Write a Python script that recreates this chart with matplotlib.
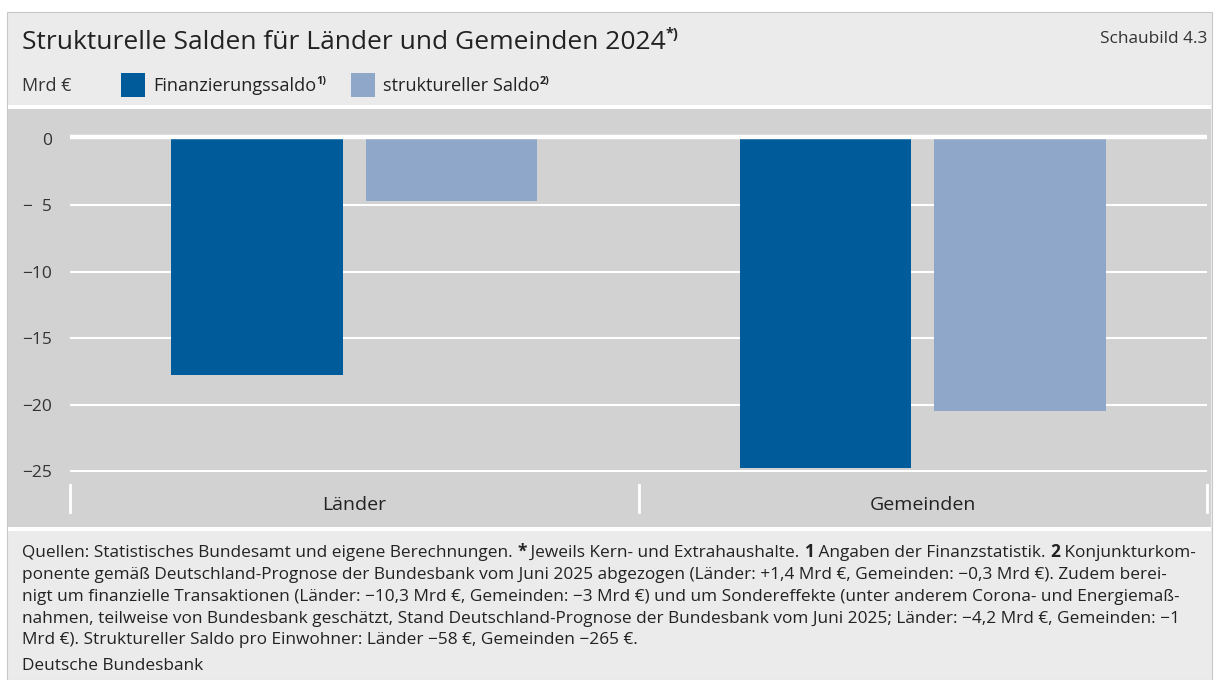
import matplotlib
matplotlib.use("Agg")
import matplotlib.pyplot as plt
from matplotlib.patches import Rectangle

# data
categories = ["Länder", "Gemeinden"]
finanzierungssaldo = [-17.8, -24.8]
struktureller_saldo = [-4.7, -20.5]
yticks = [0, -5, -10, -15, -20, -25]
ytick_labels = ["0", "\u2212  5", "\u221210", "\u221215", "\u221220", "\u221225"]

W, H = 1216, 680
DARK = "#005b9b"
LIGHT = "#8fa7c8"
TXT = "#222222"

plt.rcParams["font.family"] = ["Open Sans", "DejaVu Sans"]

fig = plt.figure(figsize=(W / 100, H / 100), dpi=100)
fig.patch.set_facecolor("white")


def fx(x):
    return x / W


def fy(y):
    return 1 - y / H


# background panels
fig.patches.append(Rectangle((fx(7), fy(680)), fx(1205), 668 / H, transform=fig.transFigure,
                             facecolor="#ebebeb", edgecolor="#c8c8c8", lw=0.8, zorder=0))
fig.patches.append(Rectangle((fx(8), fy(527)), fx(1203), 418 / H, transform=fig.transFigure,
                             facecolor="#d2d2d2", edgecolor="none", zorder=0))
fig.patches.append(Rectangle((fx(8), fy(109)), fx(1203), 4 / H, transform=fig.transFigure,
                             facecolor="white", edgecolor="none", zorder=0))
fig.patches.append(Rectangle((fx(8), fy(531)), fx(1203), 4 / H, transform=fig.transFigure,
                             facecolor="white", edgecolor="none", zorder=0))

# axes: x from 70 to 1207 px, y=0 at 139 px, -25 at 471 px
ax = fig.add_axes([fx(70), fy(527), fx(1207 - 70), (527 - 110) / H])
ax.set_zorder(2)
ax.set_facecolor("none")
ppu = (471 - 139) / 25
ax.set_ylim(-(527 - 139) / ppu, (139 - 110) / ppu)
ax.set_xlim(-0.5, 1.5)

x = range(len(categories))
bw = 0.301
off = 0.171
ax.bar([i - off for i in x], finanzierungssaldo, width=bw, color=DARK, zorder=3)
ax.bar([i + off for i in x], struktureller_saldo, width=bw, color=LIGHT, zorder=3)

for t in yticks[1:]:
    ax.axhline(t, color="white", lw=1.5, zorder=1)
ax.axhline(0.12, color="white", lw=3.2, zorder=4)
ax.set_yticks(yticks)
ax.set_yticklabels(ytick_labels, fontsize=12.5, color="#333333")
ax.tick_params(axis="y", length=0, pad=13)
ax.set_xticks([])
for s in ax.spines.values():
    s.set_visible(False)

# category separators and labels
ybot = -(512 - 139) / ppu
ytop = -(485 - 139) / ppu
for xs in [-0.5, 0.5, 1.5]:
    ax.plot([xs, xs], [ybot, ytop], color="white", lw=2.0, zorder=2, clip_on=False)
for i, c in enumerate(categories):
    ax.text(i, -(505 - 139) / ppu, c, ha="center", va="center", fontsize=14,
            fontweight="medium", color=TXT)

fig.canvas.draw()
r = fig.canvas.get_renderer()


def seg_text(x0, y0, parts, size, **kw):
    # parts: list of (text, weight, dy_px, size_factor)
    xp = x0
    for p in parts:
        s, w = p[0], p[1]
        dy = p[2] if len(p) > 2 else 0
        sf = p[3] if len(p) > 3 else 1.0
        t = fig.text(fx(xp), fy(y0 - dy), s, fontsize=size * sf, fontweight=w,
                     va="baseline", ha="left", color=TXT, **kw)
        bb = t.get_window_extent(renderer=r)
        xp += bb.width
    return xp


# title
seg_text(22, 49, [("Strukturelle Salden für Länder und Gemeinden 2024", "medium"),
                  ("*)", "bold", 11, 0.55)], 19)
fig.text(fx(1207), fy(43), "Schaubild 4.3", fontsize=12.4, ha="right", va="baseline", color="#333333")

# legend
fig.text(fx(22), fy(91), "Mrd €", fontsize=13, va="baseline", color="#333333")
fig.patches.append(Rectangle((fx(121), fy(97)), fx(24), 24 / H, transform=fig.transFigure,
                             facecolor=DARK, edgecolor="none"))
seg_text(153, 91, [("Finanzierungssaldo", "medium"), ("1)", "bold", 7, 0.6)], 13.1)
fig.patches.append(Rectangle((fx(351), fy(97)), fx(24), 24 / H, transform=fig.transFigure,
                             facecolor=LIGHT, edgecolor="none"))
seg_text(383, 91, [("struktureller Saldo", "medium"), ("2)", "bold", 7, 0.6)], 13.1)

# footer
fs = 12.4
foot = [
    [("Quellen: Statistisches Bundesamt und eigene Berechnungen. ", "normal"), ("*", "bold"),
     (" Jeweils Kern- und Extrahaushalte. ", "normal"), ("1", "bold"),
     (" Angaben der Finanzstatistik. ", "normal"), ("2", "bold"), (" Konjunkturkom-", "normal")],
    [("ponente gemäß Deutschland-Prognose der Bundesbank vom Juni 2025 abgezogen (Länder: +1,4 Mrd €, Gemeinden: \u22120,3 Mrd €). Zudem berei-", "normal")],
    [("nigt um finanzielle Transaktionen (Länder: \u221210,3 Mrd €, Gemeinden: \u22123 Mrd €) und um Sondereffekte (unter anderem Corona- und Energiemaß-", "normal")],
    [("nahmen, teilweise von Bundesbank geschätzt, Stand Deutschland-Prognose der Bundesbank vom Juni 2025; Länder: \u22124,2 Mrd €, Gemeinden: \u22121", "normal")],
    [("Mrd €). Struktureller Saldo pro Einwohner: Länder \u221258 €, Gemeinden \u2212265 €.", "normal")],
]
base = [557, 579, 601, 623, 644]
for parts, yb in zip(foot, base):
    seg_text(22, yb, parts, fs)
fig.text(fx(22), fy(670), "Deutsche Bundesbank", fontsize=fs, va="baseline", color=TXT)

fig.savefig("out.png", dpi=100)
